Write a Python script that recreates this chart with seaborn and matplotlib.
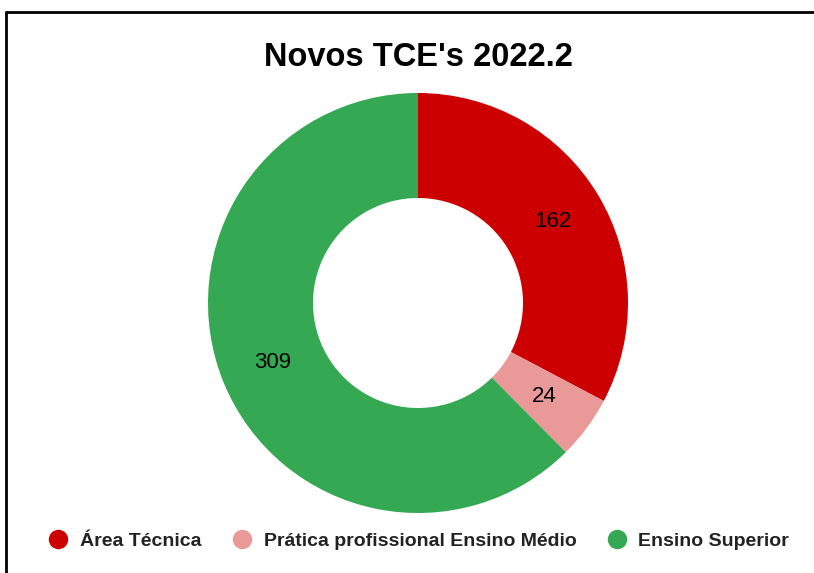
import seaborn as sns
import matplotlib.pyplot as plt
from matplotlib.lines import Line2D

categorias = ["Área Técnica", "Prática profissional Ensino Médio", "Ensino Superior"]
valores = [162, 24, 309]
cores = ["#CC0000", "#EA9999", "#34A853"]

sns.set_theme(style="white")
plt.rcParams['font.family'] = ['Liberation Sans', 'DejaVu Sans']
paleta = sns.color_palette(cores)

fig = plt.figure(figsize=(8.14, 5.73), dpi=100)
fig.patch.set_facecolor("white")

# moldura (só esquerda e topo aparecem no recorte)
fig.add_artist(Line2D([6/814, 6/814], [0, 1 - 12/573], color="black", lw=2, transform=fig.transFigure))
fig.add_artist(Line2D([6/814, 1], [1 - 12/573, 1 - 12/573], color="black", lw=2, transform=fig.transFigure))

ax = fig.add_axes([208/814, 60/573, 420/814, 420/573])
wedges, textos = ax.pie(valores, colors=paleta, startangle=90, counterclock=False,
                        labels=[str(v) for v in valores], labeldistance=0.75,
                        wedgeprops=dict(width=0.5, linewidth=0),
                        textprops=dict(fontsize=16, color="black"))
for t in textos:
    t.set_ha("center")
    t.set_va("center")
ax.set_xlim(-1, 1)
ax.set_ylim(-1, 1)
ax.set_aspect("equal")

fig.text(418/814, 1 - 57/573, "Novos TCE's 2022.2", ha="center", va="center",
         fontsize=23.5, fontweight="bold", color="black")

handles = [Line2D([], [], marker="o", linestyle="", markersize=14, markerfacecolor=c,
                  markeredgewidth=0) for c in paleta]
leg = fig.legend(handles, categorias, loc="center", bbox_to_anchor=(418/814, 1 - 541/573),
                 ncol=3, frameon=False, prop=dict(size=14, weight="bold"),
                 handletextpad=0.5, columnspacing=1.5, handlelength=1.2)
for t in leg.get_texts():
    t.set_color("#222222")

plt.savefig("out.png", dpi=100)
